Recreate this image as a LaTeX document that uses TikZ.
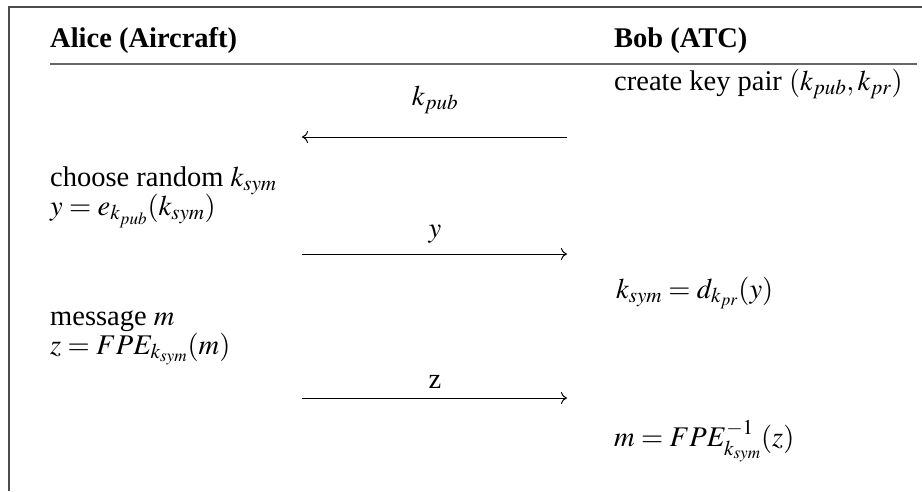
\documentclass[tikz,border=0pt]{standalone}
\usepackage{mathptmx}
\usepackage{fontspec}
\setmainfont{Liberation Serif}
\usetikzlibrary{arrows.meta}
\begin{document}
\begin{tikzpicture}[x=1pt,y=-1pt,
  every node/.style={font=\fontsize{28.5}{32}\selectfont, inner sep=0pt},
  txt/.style={anchor=base west},
  hdr/.style={anchor=base west, font=\fontsize{28.5}{32}\selectfont\bfseries},
  msg/.style={draw=black, line width=1pt, -{Computer Modern Rightarrow[length=6pt,width=12pt]}},
  lbl/.style={anchor=base}]
\useasboundingbox (0,0) rectangle (922,491);
\coordinate (ftl) at (9,7);
\coordinate (ftr) at (922,7);
\coordinate (fbl) at (9,491);
\draw[black!70, line width=1.3pt] (ftr) -- (ftl) -- (fbl);
\coordinate (rl) at (50,64);
\coordinate (rr) at (917,64);
\draw[black!60, line width=2pt] (rl) -- (rr);

\node[hdr] (alice) at (50,47) {Alice (Aircraft)};
\node[hdr] (bob) at (614,47) {Bob (ATC)};
\node[txt] (create) at (614,90) {create key pair $(k_{pub},k_{pr})$};

\coordinate (a1r) at (567,137);
\coordinate (a1l) at (302,137);
\node[lbl] (l1) at (435,105) {$k_{pub}$};
\draw[msg] (a1r) -- (a1l);

\node[txt] (choose) at (50,186) {choose random $k_{sym}$};
\node[txt] (ye) at (50,215) {$y=e_{k_{pub}}(k_{sym})$};

\coordinate (a2l) at (302,254);
\coordinate (a2r) at (567,254);
\node[lbl] (l2) at (435,237) {$y$};
\draw[msg] (a2l) -- (a2r);

\node[txt] (kd) at (616,298) {$k_{sym}=d_{k_{pr}}(y)$};

\node[txt] (mess) at (50,325) {message $m$};
\node[txt] (zf) at (50,354) {$z=FPE_{k_{sym}}(m)$};

\coordinate (a3l) at (302,398);
\coordinate (a3r) at (567,398);
\node[lbl] (l3) at (435,388) {z};
\draw[msg] (a3l) -- (a3r);

\node[txt] (mf) at (614,446) {$m=FPE_{k_{sym}}^{-1}(z)$};
\end{tikzpicture}
\end{document}
